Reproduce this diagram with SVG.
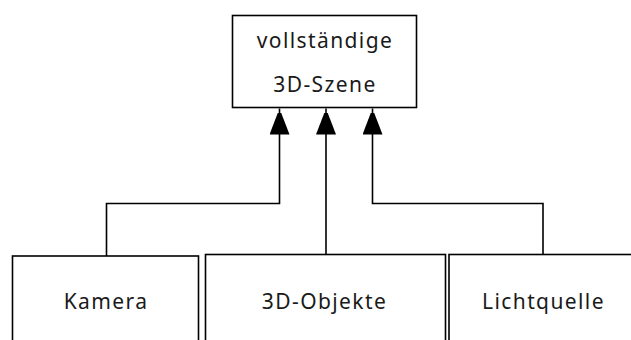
<svg xmlns="http://www.w3.org/2000/svg" width="631" height="340" viewBox="0 0 631 340">
  <style>
    .box { fill: #ffffff; stroke: #000000; stroke-width: 1.6; }
    .wire { fill: none; stroke: #000000; stroke-width: 1.6; }
    .label { font-family: "Noto Sans", "Open Sans", sans-serif; font-size: 21px; letter-spacing: 1.4px; fill: #1a1a1a; text-anchor: middle; }
  </style>
  <defs>
    <marker id="head" markerUnits="userSpaceOnUse" markerWidth="22" markerHeight="28" refX="26" refY="10" orient="auto">
      <path d="M0,0 L26,10 L0,20 Z" fill="#000000"/>
    </marker>
  </defs>

  <g id="scene">
    <rect class="box" x="232.5" y="15.5" width="184" height="92"/>
    <text class="label" x="325" y="48">vollständige</text>
    <text class="label" x="325" y="92">3D-Szene</text>
  </g>

  <g id="kamera">
    <rect class="box" x="12.5" y="256" width="186" height="100"/>
    <text class="label" x="106" y="309">Kamera</text>
  </g>

  <g id="objekte">
    <rect class="box" x="205.5" y="254.5" width="240" height="100"/>
    <text class="label" x="324.5" y="309">3D-Objekte</text>
  </g>

  <g id="lichtquelle">
    <rect class="box" x="449" y="254.5" width="200" height="100"/>
    <text class="label" x="543.5" y="309">Lichtquelle</text>
  </g>

  <g id="connectors">
    <path class="wire" d="M106.5,256 V203.5 H279.5 V108.5" marker-end="url(#head)"/>
    <path class="wire" d="M326,254.5 V108.5" marker-end="url(#head)"/>
    <path class="wire" d="M543,254.5 V203.5 H372.5 V108.5" marker-end="url(#head)"/>
  </g>
</svg>
